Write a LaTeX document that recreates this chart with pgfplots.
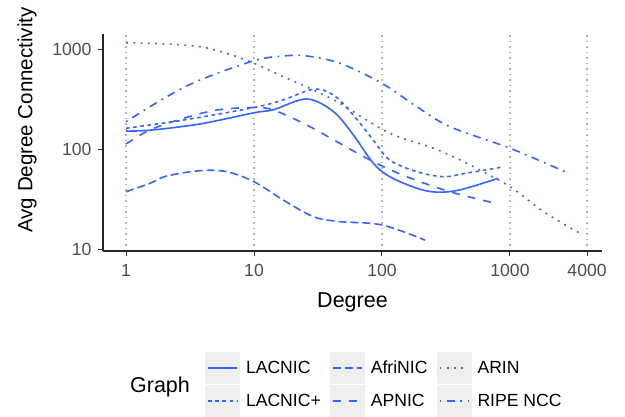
\documentclass[border=0pt]{standalone}
\usepackage{fontspec}
\setmainfont{Liberation Sans}
\usepackage{pgfplots}
\pgfplotsset{compat=1.18}
\definecolor{smoothblue}{HTML}{3366FF}
\definecolor{grey30}{HTML}{4D4D4D}
\definecolor{keygrey}{HTML}{EFEFEF}
\begin{document}
\begin{tikzpicture}
\path[use as bounding box] (0,0) rectangle (625pt,416pt);
\begin{axis}[
  at={(103pt,165pt)}, anchor=south west,
  scale only axis, width=499pt, height=217pt,
  xmode=log, ymode=log,
  xmin=0.661, xmax=5236, ymin=9.66, ymax=1429,
  axis lines=left, axis line style={-, line width=1.1pt, black!85},
  tick align=outside, major tick length=5pt,
  tick style={line width=1pt, black!80},
  xminorticks=false, yminorticks=false,
  xtick={1,10,100,1000,4000}, xticklabels={1,10,100,1000,4000},
  ytick={10,100,1000}, yticklabels={10,100,1000},
  ticklabel style={font=\fontsize{17.6}{20}\selectfont, text=grey30},
  xticklabel style={yshift=-5pt},
  yticklabel style={xshift=-3pt},
  /pgf/number format/assume math mode=true,
  xmajorgrids,
  major x grid style={black!30, line width=1.2pt, dash pattern=on 1.3pt off 4.2pt},
  xlabel={Degree}, ylabel={Avg Degree Connectivity},
  xlabel style={font=\fontsize{21.5}{24}\selectfont, at={(axis description cs:0.5,-0.238)}, anchor=center},
  ylabel style={font=\fontsize{20.5}{24}\selectfont, at={(axis description cs:-0.152,0.604)}, anchor=center, rotate=0},
  every axis plot/.append style={smoothblue, line width=1.6pt, smooth, tension=0.55},
  legend columns=3,
  legend cell align=left,
  legend style={at={(axis description cs:0.2044,-0.4654)}, anchor=north west,
    draw=none, fill=none, inner sep=0pt, outer sep=0pt,
    column sep=4pt, row sep=1pt,
    /tikz/every even column/.append style={column sep=7pt},
    font=\fontsize{17.6}{20}\selectfont,
    nodes={inner xsep=2pt, inner ysep=0pt}},
  legend image code/.code={
    \fill[keygrey, draw=none] (0pt,-16pt) rectangle (35pt,16pt);
    \draw[#1, line width=1.6pt] (3pt,0pt) -- (32pt,0pt);
  },
]
% LACNIC (solid)
\addplot[solid] coordinates {
(1,153) (1.54,156) (3.78,180) (10,233) (14.2,250) (25.8,320) (41.7,240) (59.7,140) (85.5,73) (115,53.5) (187,41) (267,37.5) (407,39.5) (811,51.5)};
\addlegendentry{LACNIC}
% AfriNIC (42)
\addplot[dash pattern=on 8pt off 4pt] coordinates {
(1,37.8) (1.54,45.9) (2.08,54.3) (3.78,61.4) (6.11,60) (10,47.6) (16.9,31.3) (29.1,21.3) (47,19) (100,17.6) (217,12.4)};
\addlegendentry{AfriNIC}
% ARIN (13)
\addplot[dash pattern=on 1.8pt off 5.5pt] coordinates {
(1,1170) (2.08,1135) (3.78,1067) (6.11,916) (10,728) (16.9,535) (29.1,394) (47,290) (75.9,197) (123,140) (252,103) (458,73) (1000,42.5) (1820,24) (3524,14.5)};
\addlegendentry{ARIN}
% LACNIC+ (22)
\addplot[dash pattern=on 3.6pt off 3.6pt] coordinates {
(1,163) (2.81,197) (10,263) (16.9,313) (29.1,400) (41.7,351) (59.7,221) (85.5,124) (115,78.5) (187,60) (301,53.5) (458,58) (887,67)};
\addlegendentry{LACNIC+}
% APNIC (44)
\addplot[dash pattern=on 8pt off 8pt] coordinates {
(1,113.5) (1.54,157) (2.81,205) (5.10,248) (10,263) (14.2,248) (25.8,176) (47,115) (85.5,75.5) (156,53.5) (340,37.8) (811,28.5)};
\addlegendentry{APNIC}
% RIPE NCC (1343)
\addplot[dash pattern=on 1.8pt off 5.5pt on 8pt off 5.5pt] coordinates {
(1,190) (2.08,337) (3.78,495) (10,773) (16.9,861) (25.8,861) (47,728) (100,459) (187,268) (340,169) (1000,103) (2690,60)};
\addlegendentry{RIPE NCC}
\end{axis}
\node[font=\fontsize{21.5}{24}\selectfont, anchor=center] at (160pt,29pt) {Graph};
\end{tikzpicture}
\end{document}
